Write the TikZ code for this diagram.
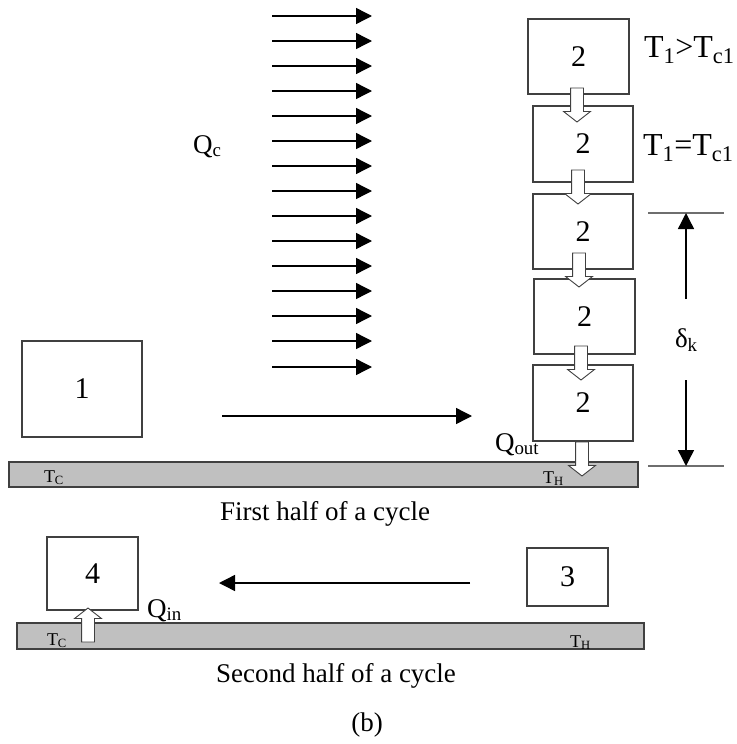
\documentclass[tikz,border=0pt]{standalone}
\usepackage{fontspec}
\setmainfont{Liberation Serif}
\usetikzlibrary{arrows.meta}
\usetikzlibrary{shapes.arrows}
\definecolor{CycLine}{RGB}{64,64,64}
\definecolor{CycPlate}{RGB}{192,192,192}
\definecolor{CycDim}{RGB}{110,110,110}

\begin{document}
\begin{tikzpicture}[
x=1pt,
y=-1pt,
every node/.style={text=black,outer sep=0pt},
cell/.style={draw=CycLine,fill=white,line width=1.1pt,inner sep=0pt,font=\fontsize{30}{30}\selectfont},
plate/.style={draw=CycLine,fill=CycPlate,line width=1.1pt,inner sep=0pt},
heatflow/.style={single arrow,draw=CycLine,fill=white,line width=0.9pt,inner sep=6pt,single arrow head extend=7pt,single arrow tip angle=104,minimum height=34pt},
caption/.style={font=\fontsize{27}{27}\selectfont,inner sep=0pt},
qlabel/.style={font=\fontsize{27}{27}\selectfont,inner sep=0pt},
tlabel/.style={font=\fontsize{32}{32}\selectfont,inner sep=0pt},
plabel/.style={font=\fontsize{18}{18}\selectfont,inner sep=0pt},
stream/.style={-{Triangle[length=16pt,width=16pt]},line width=1.4pt,draw=black},
dimline/.style={draw=CycDim,line width=1.3pt}
]

\path[use as bounding box] (0,0) rectangle (736,744);

% heat input
\draw[stream] (272,16) -- (372,16);
\draw[stream] (272,41) -- (372,41);
\draw[stream] (272,66) -- (372,66);
\draw[stream] (272,91) -- (372,91);
\draw[stream] (272,116) -- (372,116);
\draw[stream] (272,141) -- (372,141);
\draw[stream] (272,166) -- (372,166);
\draw[stream] (272,191) -- (372,191);
\draw[stream] (272,216) -- (372,216);
\draw[stream] (272,241) -- (372,241);
\draw[stream] (272,266) -- (372,266);
\draw[stream] (272,291) -- (372,291);
\draw[stream] (272,316) -- (372,316);
\draw[stream] (272,341) -- (372,341);
\draw[stream] (272,367) -- (372,367);
\node[qlabel,anchor=base west] (qc) at (193,153) {Q\textsubscript{c}};

% first half of a cycle
\node[plate,minimum width=629pt,minimum height=25pt] (hot) at (323.5,474.5) {};
\node[plabel,anchor=base west] (tc1) at (44,482) {T\textsubscript{C}};
\node[plabel,anchor=base west] (th1) at (543,483) {T\textsubscript{H}};

\node[cell,minimum width=120pt,minimum height=96pt] (one) at (82,389) {1};

\node[cell,minimum width=101pt,minimum height=75pt] (s1) at (578.5,56.5) {2};
\node[cell,minimum width=100pt,minimum height=76pt] (s2) at (583,144) {2};
\node[cell,minimum width=100pt,minimum height=75pt] (s3) at (583,231.5) {2};
\node[cell,minimum width=101pt,minimum height=75pt] (s4) at (584.5,316.5) {2};
\node[cell,minimum width=100pt,minimum height=76pt] (s5) at (583,403) {2};

\node[heatflow,rotate=-90,anchor=tail] (f1) at (577,88) {};
\node[heatflow,rotate=-90,anchor=tail] (f2) at (578,170) {};
\node[heatflow,rotate=-90,anchor=tail] (f3) at (579,253) {};
\node[heatflow,rotate=-90,anchor=tail] (f4) at (581,346) {};
\node[heatflow,rotate=-90,anchor=tail] (f5) at (582,442) {};

\node[tlabel,anchor=base west] (hi) at (644,57) {T\textsubscript{1}>T\textsubscript{c1}};
\node[tlabel,anchor=base west] (eq) at (643,155) {T\textsubscript{1}=T\textsubscript{c1}};
\node[qlabel,anchor=base west] (qout) at (495,451) {Q\textsubscript{out}};

\coordinate (go1) at (222,416);
\coordinate (go2) at (472,416);
\draw[stream] (go1) -- (go2);

% penetration depth
\coordinate (dtop) at (686,213);
\coordinate (dbot) at (686,466);
\draw[dimline] (648,213) -- (724,213);
\draw[dimline] (648,466) -- (724,466);
\node[qlabel,anchor=base west] (dk) at (675,347) {δ\textsubscript{k}};
\draw[stream] (686,299) -- (dtop);
\draw[stream] (686,380) -- (dbot);

\node[caption,anchor=base] (first) at (325,520) {First half of a cycle};

% second half of a cycle
\node[plate,minimum width=627pt,minimum height=26pt] (cold) at (330.5,636) {};
\node[plabel,anchor=base west] (tc2) at (47,645) {T\textsubscript{C}};
\node[plabel,anchor=base west] (th2) at (570,647) {T\textsubscript{H}};

\node[cell,minimum width=91pt,minimum height=73pt] (four) at (92.5,573.5) {4};
\node[cell,minimum width=81pt,minimum height=58pt] (three) at (567.5,577) {3};

\node[heatflow,rotate=90,anchor=tail] (fin) at (88,642) {};
\node[qlabel,anchor=base west] (qin) at (147,617) {Q\textsubscript{in}};

\coordinate (back1) at (470,583);
\coordinate (back2) at (219,583);
\draw[stream] (back1) -- (back2);

\node[caption,anchor=base] (second) at (336,682) {Second half of a cycle};
\node[caption,anchor=base] (tag) at (367,731) {(b)};

\end{tikzpicture}
\end{document}
